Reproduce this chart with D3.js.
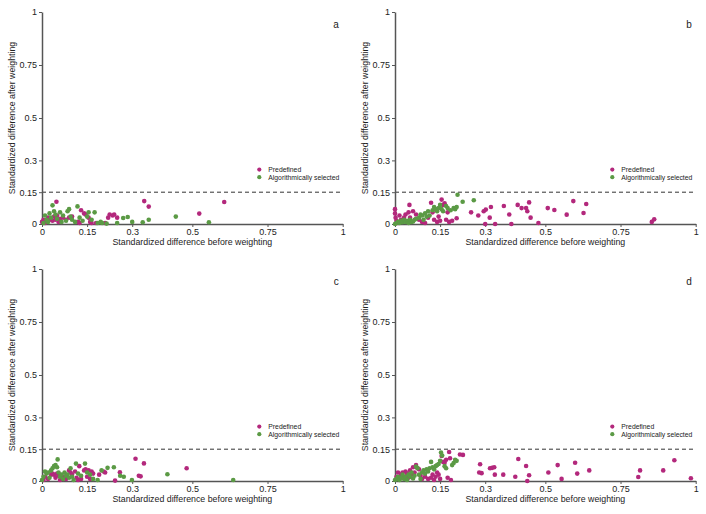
<!DOCTYPE html>
<html><head><meta charset="utf-8">
<script src="https://cdn.jsdelivr.net/npm/d3@7"></script>
<style>body{margin:0;background:#fff;}svg{display:block;font-family:"Liberation Sans",Arial,sans-serif;}</style>
</head><body>
<svg id="chart" width="706" height="514"></svg>
<script>
const panelLabels = ["a","b","c","d"];
const xTicks = [0, 0.15, 0.3, 0.5, 0.75, 1];
const yTicks = [0, 0.15, 0.3, 0.5, 0.75, 1];
const xTickLabels = ["0","0.15","0.3","0.5","0.75","1"];
const yTickLabels = ["0","0.15","0.3","0.5","0.75","1"];
const threshold = 0.15;
const seriesNames = ["Predefined","Algorithmically selected"];

const predefinedA = [[0.0,0.01],[0.005,0.02],[0.01,0.005],[0.02,0.03],[0.03,0.02],[0.035,0.015],[0.04,0.035],[0.045,0.02],[0.048,0.105],[0.05,0.04],[0.055,0.01],[0.06,0.025],[0.07,0.03],[0.08,0.02],[0.09,0.03],[0.1,0.035],[0.12,0.01],[0.125,0.005],[0.13,0.065],[0.14,0.05],[0.145,0.045],[0.155,0.03],[0.16,0.01],[0.165,0.005],[0.18,0.005],[0.21,0.005],[0.22,0.03],[0.225,0.045],[0.235,0.04],[0.24,0.045],[0.25,0.03],[0.34,0.108],[0.355,0.082],[0.523,0.049],[0.606,0.104]];
const algorithmicA = [[0.005,0.005],[0.01,0.04],[0.015,0.02],[0.02,0.01],[0.025,0.05],[0.03,0.03],[0.035,0.088],[0.04,0.06],[0.045,0.045],[0.05,0.025],[0.06,0.055],[0.065,0.01],[0.07,0.04],[0.08,0.015],[0.085,0.06],[0.09,0.07],[0.095,0.035],[0.1,0.02],[0.11,0.01],[0.118,0.083],[0.125,0.03],[0.135,0.015],[0.15,0.035],[0.155,0.055],[0.165,0.02],[0.175,0.055],[0.185,0.005],[0.195,0.01],[0.2,0.005],[0.215,0.002],[0.25,0.005],[0.27,0.028],[0.285,0.033],[0.3,0.01],[0.335,0.008],[0.355,0.02],[0.445,0.035],[0.555,0.008]];

const predefinedB = [[0,0.07],[0,0.05],[0.002,0.03],[0.005,0.015],[0.01,0.005],[0.015,0.04],[0.02,0.02],[0.03,0.03],[0.035,0.045],[0.04,0.01],[0.045,0.055],[0.048,0.09],[0.05,0.03],[0.06,0.06],[0.07,0.045],[0.08,0.02],[0.09,0.01],[0.1,0.005],[0.11,0.03],[0.12,0.1],[0.125,0.055],[0.13,0.02],[0.14,0.01],[0.145,0.035],[0.15,0.015],[0.155,0.115],[0.16,0.09],[0.165,0.098],[0.17,0.02],[0.175,0.055],[0.18,0.01],[0.19,0.015],[0.205,0.027],[0.253,0.055],[0.277,0.04],[0.295,0.06],[0.3,0.0],[0.302,0.068],[0.315,0.03],[0.319,0.08],[0.333,0.0],[0.362,0.085],[0.38,0.045],[0.387,0.0],[0.408,0.09],[0.421,0.075],[0.436,0.075],[0.44,0.06],[0.446,0.102],[0.451,0.03],[0.477,0.005],[0.508,0.075],[0.53,0.066],[0.571,0.044],[0.593,0.108],[0.627,0.052],[0.636,0.094],[0.854,0.01],[0.862,0.022]];
const algorithmicB = [[0.0,0.0],[0.005,0.005],[0.01,0.01],[0.015,0.005],[0.02,0.015],[0.025,0.008],[0.03,0.02],[0.035,0.01],[0.04,0.015],[0.045,0.005],[0.05,0.02],[0.055,0.01],[0.06,0.012],[0.065,0.02],[0.07,0.025],[0.08,0.03],[0.085,0.045],[0.09,0.04],[0.095,0.02],[0.1,0.05],[0.105,0.035],[0.11,0.06],[0.115,0.04],[0.125,0.065],[0.13,0.08],[0.135,0.07],[0.14,0.06],[0.145,0.075],[0.15,0.09],[0.155,0.07],[0.16,0.06],[0.17,0.085],[0.175,0.075],[0.185,0.065],[0.195,0.075],[0.2,0.07],[0.205,0.08],[0.208,0.138],[0.225,0.105],[0.262,0.112]];

const predefinedC = [[0.005,0.005],[0.01,0.02],[0.02,0.01],[0.03,0.03],[0.035,0.035],[0.04,0.03],[0.045,0.015],[0.05,0.035],[0.055,0.025],[0.06,0.005],[0.07,0.02],[0.08,0.01],[0.09,0.05],[0.095,0.04],[0.1,0.03],[0.11,0.045],[0.115,0.015],[0.12,0.005],[0.124,0.07],[0.13,0.01],[0.14,0.05],[0.145,0.055],[0.15,0.02],[0.155,0.05],[0.16,0.01],[0.165,0.045],[0.17,0.035],[0.19,0.03],[0.205,0.045],[0.21,0.04],[0.243,0.002],[0.259,0.041],[0.311,0.105],[0.322,0.025],[0.328,0.022],[0.339,0.083],[0.481,0.06]];
const algorithmicC = [[0.0,0.005],[0.005,0.02],[0.01,0.045],[0.015,0.035],[0.02,0.04],[0.025,0.015],[0.03,0.05],[0.035,0.06],[0.04,0.07],[0.045,0.075],[0.05,0.065],[0.052,0.102],[0.055,0.04],[0.06,0.02],[0.065,0.03],[0.07,0.01],[0.075,0.04],[0.08,0.025],[0.085,0.03],[0.09,0.015],[0.095,0.06],[0.1,0.02],[0.105,0.005],[0.113,0.082],[0.12,0.035],[0.13,0.025],[0.143,0.082],[0.15,0.04],[0.16,0.03],[0.17,0.01],[0.185,0.005],[0.198,0.05],[0.218,0.062],[0.239,0.065],[0.26,0.025],[0.272,0.02],[0.299,0.005],[0.417,0.032],[0.636,0.005]];

const predefinedD = [[0.005,0.02],[0.01,0.04],[0.015,0.01],[0.02,0.03],[0.025,0.04],[0.03,0.02],[0.035,0.045],[0.04,0.035],[0.045,0.015],[0.05,0.05],[0.055,0.03],[0.06,0.065],[0.065,0.04],[0.07,0.075],[0.075,0.06],[0.08,0.055],[0.085,0.025],[0.09,0.01],[0.1,0.02],[0.11,0.01],[0.12,0.015],[0.125,0.03],[0.13,0.005],[0.135,0.02],[0.14,0.04],[0.145,0.03],[0.15,0.01],[0.155,0.118],[0.16,0.09],[0.165,0.086],[0.17,0.1],[0.175,0.015],[0.18,0.137],[0.183,0.107],[0.186,0.005],[0.216,0.125],[0.226,0.123],[0.28,0.04],[0.283,0.079],[0.288,0.037],[0.316,0.06],[0.323,0.062],[0.33,0.065],[0.332,0.03],[0.36,0.03],[0.4,0.02],[0.41,0.104],[0.436,0.071],[0.44,0.0],[0.446,0.027],[0.51,0.04],[0.541,0.075],[0.554,0.01],[0.599,0.086],[0.606,0.035],[0.646,0.05],[0.809,0.019],[0.815,0.05],[0.892,0.05],[0.929,0.098],[0.984,0.013]];
const algorithmicD = [[0.0,0.005],[0.005,0.01],[0.01,0.02],[0.015,0.005],[0.02,0.015],[0.025,0.03],[0.03,0.01],[0.035,0.02],[0.04,0.005],[0.045,0.03],[0.05,0.02],[0.055,0.04],[0.06,0.012],[0.065,0.025],[0.07,0.068],[0.075,0.06],[0.08,0.03],[0.085,0.01],[0.09,0.04],[0.095,0.05],[0.1,0.035],[0.105,0.055],[0.11,0.045],[0.115,0.06],[0.12,0.09],[0.125,0.065],[0.13,0.055],[0.135,0.07],[0.14,0.075],[0.145,0.08],[0.15,0.095],[0.153,0.134],[0.157,0.12],[0.165,0.07],[0.17,0.06],[0.19,0.075],[0.195,0.085],[0.2,0.1],[0.205,0.095]];

const predefinedAll = [predefinedA, predefinedB, predefinedC, predefinedD];
const algorithmicAll = [algorithmicA, algorithmicB, algorithmicC, algorithmicD];

const colors = {pre: "#b3287c", alg: "#5b9a45"};
const svg = d3.select("#chart");
const W = 300.7, H = 212;
const origins = [[42,12],[395,12],[42,269],[395,269]];

panelLabels.forEach((lab, i) => {
  const [ox, oy] = origins[i];
  const g = svg.append("g").attr("transform", `translate(${ox},${oy})`);
  const x = d3.scaleLinear().domain([0,1]).range([0,W]);
  const y = d3.scaleLinear().domain([0,1]).range([H,0]);

  g.append("line").attr("x1", x(0)).attr("x2", x(1)).attr("y1", y(threshold)).attr("y2", y(threshold))
    .attr("stroke","#333").attr("stroke-width",1).attr("stroke-dasharray","4,3");

  const xa = g.append("g").attr("transform",`translate(0,${H})`)
    .call(d3.axisBottom(x).tickValues(xTicks).tickFormat((d,k)=>xTickLabels[k]).tickSizeInner(3).tickSizeOuter(0).tickPadding(2));
  const ya = g.append("g")
    .call(d3.axisLeft(y).tickValues(yTicks).tickFormat((d,k)=>yTickLabels[k]).tickSizeInner(3).tickSizeOuter(0).tickPadding(2));
  [xa, ya].forEach(a => {
    a.select(".domain").attr("stroke","#555").attr("stroke-width",1.5);
    a.selectAll(".tick line").attr("stroke","#555");
    a.selectAll("text").attr("font-size",9).attr("fill","#222").attr("font-family","Liberation Sans, Arial, sans-serif");
  });

  g.append("g").selectAll("circle").data(predefinedAll[i]).join("circle")
    .attr("cx", d => x(d[0])).attr("cy", d => y(d[1])).attr("r", 2.3).attr("fill", colors.pre);
  g.append("g").selectAll("circle").data(algorithmicAll[i]).join("circle")
    .attr("cx", d => x(d[0])).attr("cy", d => y(d[1])).attr("r", 2.3).attr("fill", colors.alg);

  g.append("text").attr("x", W/2).attr("y", H + 21).attr("text-anchor","middle")
    .attr("font-size",8.8).attr("fill","#222").text("Standardized difference before weighting");
  g.append("text").attr("transform",`translate(-27,${H/2}) rotate(-90)`).attr("text-anchor","middle")
    .attr("font-size",8.8).attr("fill","#222").text("Standardized difference after weighting");

  g.append("text").attr("x", W - 4).attr("y", 16).attr("text-anchor","end")
    .attr("font-size",10).attr("fill","#222").text(lab);

  const lx = 217.3;
  const ly = 157.6;
  const lg = g.append("g").attr("transform",`translate(${lx},${ly})`);
  [colors.pre, colors.alg].forEach((c, k) => {
    lg.append("circle").attr("cx",0).attr("cy",k*7.6).attr("r",2.1).attr("fill",c);
    lg.append("text").attr("x",9).attr("y",k*7.6+2.4).attr("font-size",6.8).attr("fill","#222").text(seriesNames[k]);
  });
});
</script>
</body></html>
